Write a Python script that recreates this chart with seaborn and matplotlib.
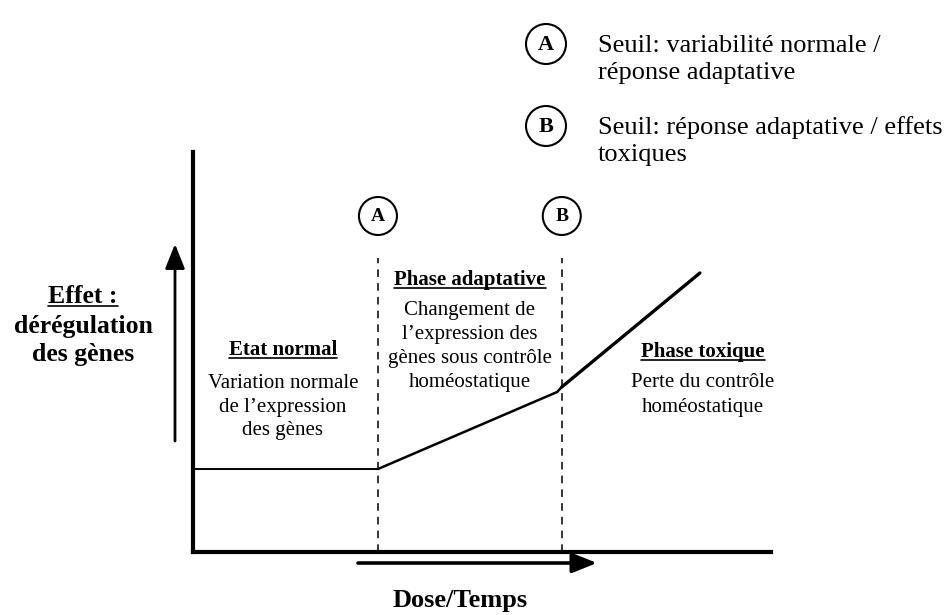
import matplotlib
matplotlib.use("Agg")
import matplotlib.pyplot as plt
import seaborn as sns
import pandas as pd
from matplotlib.patches import Ellipse, FancyArrowPatch
from matplotlib.lines import Line2D

# ---- data (conceptual units: dose 0-100, effect 0-100) ----
normal_dose = [0.0, 32.0]
normal_effect = [20.75, 20.75]
adaptive_dose = [32.0, 63.0, 63.8]
adaptive_effect = [20.75, 40.0, 41.25]
toxic_dose = [63.8, 87.7]
toxic_effect = [41.25, 69.75]
thresholds = [32.0, 63.8]
threshold_labels = ["A", "B"]
threshold_top = 73.5

legend_labels = ["A", "B"]
legend_lines = [["Seuil: variabilité normale /", "réponse adaptative"],
                ["Seuil: réponse adaptative / effets", "toxiques"]]

W, H = 948, 615
sns.set_theme(style="white")
plt.rcParams['font.family'] = ['Liberation Serif', 'DejaVu Serif']
plt.rcParams['text.color'] = 'black'

fig = plt.figure(figsize=(W / 100, H / 100), dpi=100)
fig.patch.set_facecolor("white")


def P(x, y):
    return (x / W, 1 - y / H)


# axes: left 193px, right 771px, bottom 552px, top 152px
ax_left, ax_right, ax_bottom, ax_top = 193, 771, 552, 152
ax = fig.add_axes([ax_left / W, (H - ax_bottom) / H, (ax_right - ax_left) / W, (ax_bottom - ax_top) / H])
ax.set_xlim(0, 100)
ax.set_ylim(0, 100)
ax.set_xticks([])
ax.set_yticks([])
ax.set_facecolor("white")
for s in ["top", "right"]:
    ax.spines[s].set_visible(False)
for s in ["left", "bottom"]:
    ax.spines[s].set_color("black")
    ax.spines[s].set_linewidth(3.0)

# curve
for d, e, lw in [(normal_dose, normal_effect, 1.4),
                 (adaptive_dose, adaptive_effect, 1.8),
                 (toxic_dose, toxic_effect, 2.4)]:
    df = pd.DataFrame({"dose": d, "effect": e})
    sns.lineplot(data=df, x="dose", y="effect", ax=ax, color="black", lw=lw,
                 estimator=None, sort=False)
ax.set_xlabel("")
ax.set_ylabel("")

# threshold dashed lines
ax.vlines(thresholds, 0, threshold_top, colors="black", linestyles=(0, (5, 4)), lw=1.1)

# circles above thresholds
for t, lab in zip(thresholds, threshold_labels):
    xp = ax_left + t / 100 * (ax_right - ax_left)
    yp = 216
    r = 19
    fig.add_artist(Ellipse(P(xp, yp), 2 * r / W, 2 * r / H, transform=fig.transFigure,
                           fc="white", ec="black", lw=1.5))
    fig.text(*P(xp, yp + 1), lab, ha="center", va="center", fontsize=14, fontweight="bold")

# legend circles
for i, (lab, lines) in enumerate(zip(legend_labels, legend_lines)):
    cy = 44 + i * 82
    r = 20
    fig.add_artist(Ellipse(P(546, cy), 2 * r / W, 2 * r / H, transform=fig.transFigure,
                           fc="white", ec="black", lw=1.5))
    fig.text(*P(546, cy + 1), lab, ha="center", va="center", fontsize=16, fontweight="bold")
    fig.text(*P(598, cy + 8), lines[0], ha="left", va="baseline", fontsize=19)
    fig.text(*P(598, cy + 35), lines[1], ha="left", va="baseline", fontsize=19)

underlined = []


def txt(x, y, s, size, bold=False, underline=False):
    t = fig.text(*P(x, y), s, ha="center", va="baseline", fontsize=size,
                 fontweight="bold" if bold else "normal")
    if underline:
        underlined.append((t, y))
    return t


# Etat normal
txt(283, 355, "Etat normal", 15, bold=True, underline=True)
txt(283, 388, "Variation normale", 15)
txt(283, 412, "de l’expression", 15)
txt(283, 435, "des gènes", 15)

# Phase adaptative
txt(470, 285, "Phase adaptative", 15, bold=True, underline=True)
txt(470, 315, "Changement de", 15)
txt(470, 339, "l’expression des", 15)
txt(470, 363, "gènes sous contrôle", 15)
txt(470, 387, "homéostatique", 15)

# Phase toxique
txt(703, 357, "Phase toxique", 15, bold=True, underline=True)
txt(703, 387, "Perte du contrôle", 15)
txt(703, 412, "homéostatique", 15)

# Y label
txt(83, 303, "Effet :", 18.5, bold=True, underline=True)
txt(83, 333, "dérégulation", 18.5, bold=True)
txt(83, 361, "des gènes", 18.5, bold=True)

# X label
txt(460, 607, "Dose/Temps", 19, bold=True)

# arrows
fig.add_artist(FancyArrowPatch(
    P(175, 441), P(175, 244), transform=fig.transFigure,
    arrowstyle="-|>,head_length=0.75,head_width=0.3", mutation_scale=20,
    lw=2.0, color="black", shrinkA=0, shrinkB=0))
fig.add_artist(FancyArrowPatch(
    P(358, 563), P(597, 563), transform=fig.transFigure,
    arrowstyle="-|>,head_length=0.75,head_width=0.3", mutation_scale=20,
    lw=2.6, color="black", shrinkA=0, shrinkB=0))

# underlines
fig.canvas.draw()
r = fig.canvas.get_renderer()
for t, y in underlined:
    bb = t.get_window_extent(r)
    uy = 1 - (y + 3) / H
    fig.add_artist(Line2D([bb.x0 / W, bb.x1 / W], [uy, uy], transform=fig.transFigure,
                          color="black", lw=1.2))

fig.savefig("out.png", dpi=100, facecolor="white")
